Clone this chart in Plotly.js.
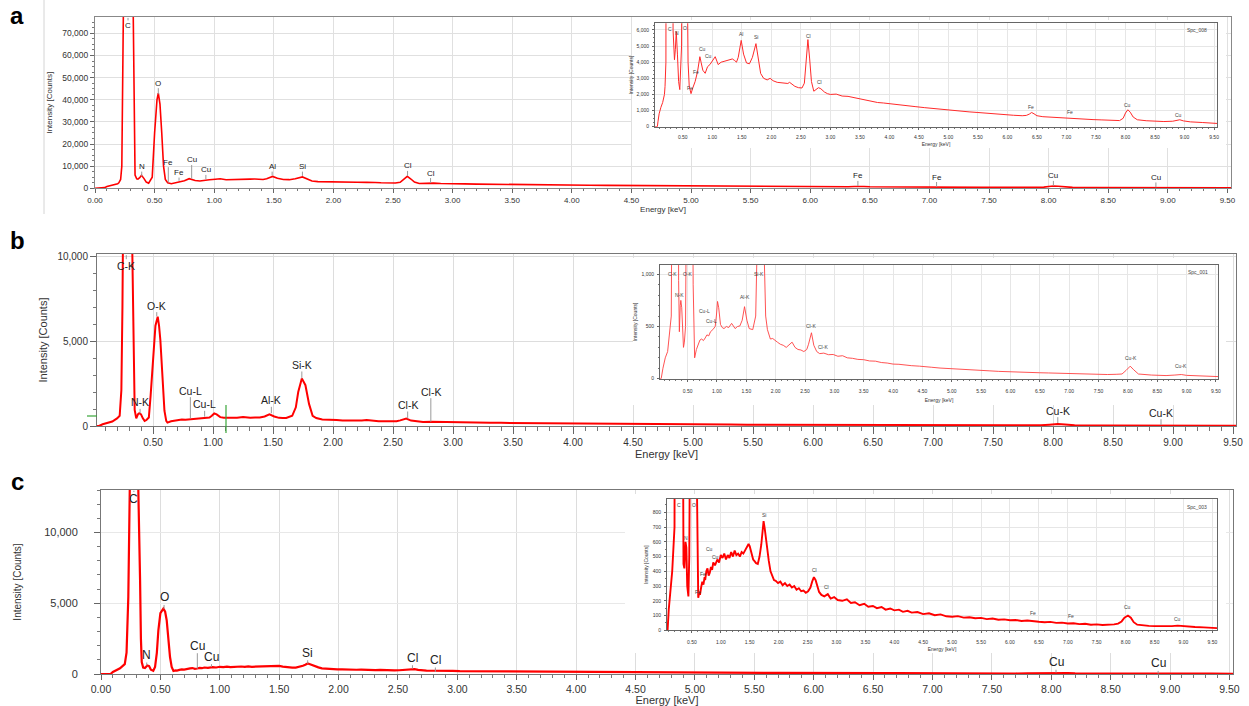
<!DOCTYPE html>
<html><head><meta charset="utf-8">
<script src="https://cdn.plot.ly/plotly-3.0.1.min.js"></script>
<style>html,body{margin:0;padding:0;background:#fff;}#chart{width:1249px;height:706px;}</style>
</head><body><div id="chart"></div>
<script>
// ---------- Spectrum a (Spc_008) ----------
const energyA = [0.00,0.05,0.07,0.08,0.10,0.13,0.16,0.19,0.20,0.215,0.225,0.232,0.24,0.255,0.275,0.295,0.31,0.32,0.328,0.336,0.35,0.36,0.375,0.39,0.41,0.43,0.45,0.465,0.48,0.50,0.52,0.531,0.545,0.56,0.575,0.59,0.61,0.64,0.67,0.71,0.75,0.79,0.81,0.84,0.88,0.92,0.96,1.01,1.05,1.10,1.15,1.20,1.25,1.30,1.34,1.38,1.41,1.44,1.49,1.53,1.58,1.63,1.68,1.74,1.78,1.82,1.87,1.93,1.98,2.03,2.10,2.20,2.28,2.31,2.35,2.40,2.46,2.52,2.56,2.59,2.62,2.65,2.68,2.72,2.76,2.80,2.84,2.90,2.95,3.00,3.10,3.20,3.30,3.40,3.50,3.60,3.70,3.80,3.90,4.00,4.15,4.30,4.45,4.60,4.75,4.90,5.05,5.20,5.35,5.50,5.65,5.80,5.95,6.10,6.25,6.32,6.37,6.41,6.45,6.50,6.60,6.80,6.95,7.06,7.15,7.30,7.45,7.60,7.75,7.90,7.96,8.00,8.04,8.08,8.13,8.20,8.35,8.50,8.65,8.80,8.88,8.92,8.98,9.10,9.30,9.45,9.56];
const countsA = [0,0,0,300,800,1200,1500,2000,2500,4000,10000,40000,90000,180000,230000,200000,130000,80000,30000,6000,4300,4150,4800,5900,4500,2800,2300,3500,5000,25000,40000,43000,38000,25000,10000,4000,2500,2050,2400,2800,3400,4340,4000,3500,3310,3720,3850,4100,4340,3850,4000,4050,4100,4150,4200,4100,4000,4300,5350,4500,3950,3900,4300,5150,4200,3300,3000,2900,3000,2850,2750,2700,2680,2750,2620,2500,2420,2400,2700,4200,5400,4200,2800,2200,2300,2420,2350,2150,2050,2000,2020,1900,1880,1800,1760,1650,1600,1500,1470,1420,1360,1300,1240,1180,1120,1060,1010,960,920,880,830,780,740,710,680,700,780,880,800,680,620,570,540,540,510,470,440,420,400,380,520,850,1050,900,600,430,370,340,320,340,400,430,360,300,260,220,200];

// ---------- Spectrum b (Spc_001) ----------
const energyB = [0.00,0.05,0.08,0.12,0.16,0.20,0.222,0.236,0.245,0.255,0.275,0.295,0.315,0.328,0.339,0.347,0.36,0.375,0.385,0.40,0.415,0.43,0.445,0.465,0.48,0.50,0.52,0.539,0.55,0.561,0.572,0.583,0.595,0.61,0.62,0.65,0.68,0.71,0.74,0.77,0.80,0.83,0.86,0.89,0.93,0.97,0.99,1.01,1.03,1.06,1.09,1.12,1.16,1.20,1.25,1.28,1.31,1.35,1.39,1.43,1.47,1.51,1.55,1.58,1.61,1.66,1.69,1.71,1.74,1.77,1.80,1.83,1.86,1.91,1.95,1.98,2.03,2.08,2.13,2.18,2.24,2.28,2.33,2.38,2.43,2.48,2.53,2.56,2.61,2.65,2.70,2.75,2.82,2.90,2.98,3.06,3.14,3.22,3.31,3.40,3.50,3.60,3.70,3.80,3.90,4.00,4.10,4.20,4.31,4.45,4.55,4.65,4.80,4.90,5.00,5.15,5.31,5.45,5.55,5.65,5.80,5.98,6.15,6.31,6.50,6.65,6.80,6.98,7.15,7.31,7.50,7.65,7.80,7.90,7.97,8.04,8.10,8.18,8.40,8.65,8.80,8.91,9.00,9.15,9.31,9.45,9.55];
const countsB = [0,0,100,200,260,450,600,2100,7000,16000,28000,26000,16000,10300,5000,940,450,700,750,680,450,300,350,500,1800,4080,5900,6430,5900,5060,3600,2120,900,300,200,280,320,370,380,365,390,420,410,450,470,500,600,740,680,520,490,480,500,490,530,510,480,500,505,560,690,560,480,475,470,600,1100,2000,2800,2400,1300,600,470,380,385,370,350,330,320,300,330,350,300,280,275,260,280,330,440,320,260,240,245,230,232,215,220,200,195,185,182,170,168,155,150,140,138,130,125,120,112,110,102,98,95,90,85,80,78,75,70,65,63,60,57,55,52,50,47,45,42,40,42,45,80,120,85,45,35,30,35,40,32,28,25,22,20];

// ---------- Spectrum c (Spc_003) ----------
const energyC = [0.00,0.05,0.08,0.10,0.13,0.16,0.20,0.215,0.23,0.24,0.25,0.27,0.29,0.305,0.315,0.323,0.329,0.336,0.343,0.355,0.37,0.39,0.405,0.42,0.44,0.455,0.47,0.483,0.50,0.525,0.54,0.553,0.567,0.581,0.595,0.61,0.63,0.64,0.66,0.68,0.70,0.72,0.73,0.75,0.77,0.79,0.81,0.83,0.85,0.87,0.90,0.92,0.94,0.97,1.00,1.03,1.06,1.09,1.12,1.15,1.18,1.21,1.24,1.27,1.30,1.33,1.36,1.39,1.42,1.45,1.48,1.50,1.53,1.56,1.58,1.61,1.64,1.67,1.70,1.72,1.74,1.76,1.78,1.80,1.83,1.86,1.89,1.92,1.95,1.99,2.03,2.07,2.11,2.15,2.19,2.23,2.27,2.31,2.35,2.39,2.43,2.47,2.51,2.55,2.58,2.61,2.64,2.67,2.70,2.74,2.79,2.85,2.90,2.96,3.02,3.10,3.18,3.25,3.32,3.40,3.48,3.55,3.63,3.70,3.78,3.85,3.93,4.00,4.08,4.15,4.23,4.30,4.40,4.50,4.60,4.70,4.80,4.90,5.00,5.10,5.20,5.30,5.40,5.50,5.60,5.70,5.80,5.90,6.00,6.10,6.20,6.30,6.40,6.50,6.60,6.70,6.80,6.90,7.00,7.10,7.20,7.30,7.40,7.50,7.60,7.70,7.80,7.87,7.93,7.98,8.04,8.09,8.14,8.20,8.30,8.40,8.50,8.60,8.70,8.80,8.90,8.95,9.05,9.20,9.35,9.45,9.58];
const countsC = [0,0,0,140,300,400,700,1500,5450,11000,18000,24000,23000,17000,13000,11100,6600,2500,850,450,420,600,560,300,230,500,1500,3090,4300,4620,4400,3800,2500,1200,500,220,260,240,290,330,310,360,340,400,420,370,390,430,410,460,440,470,480,460,510,490,520,480,510,490,530,500,540,510,520,500,530,520,540,560,585,570,520,480,470,455,450,500,580,650,740,690,620,560,470,400,370,340,335,320,330,305,320,300,310,290,300,275,285,265,270,255,265,290,330,360,340,290,260,240,230,245,215,225,205,200,210,185,190,170,180,160,165,150,158,140,148,135,140,125,132,120,124,110,115,102,108,95,92,96,86,88,82,84,76,80,72,74,68,70,63,66,60,58,55,57,50,52,46,48,42,44,38,40,36,37,40,45,60,85,100,85,55,38,32,30,28,27,25,28,32,30,24,22,20,18,15];

// ---------- Peak labels: main panels ----------
const peakTextA  = ['C','O','N','Fe','Fe','Cu','Cu','Al','Si','Cl','Cl','Fe','Fe','Cu','Cu'];
const peakEnergyA= [0.277,0.531,0.392,0.615,0.705,0.811,0.930,1.486,1.740,2.622,2.815,6.400,7.060,8.040,8.900];
const peakBaseA  = [77000,42500,5400,2600,3400,4300,4100,5800,5600,5600,2400,1000,600,1100,450];
const peakLabelYA= [73600,47500,9800,11800,7100,12800,8300,9800,9800,10100,6900,5600,5100,5600,4900];

const peakTextB  = ['C-K','O-K','N-K','Cu-L','Cu-L','Al-K','Si-K','Cl-K','Cl-K','Cu-K','Cu-K'];
const peakEnergyB= [0.277,0.531,0.392,0.811,0.930,1.486,1.740,2.622,2.815,8.040,8.900];
const peakBaseB  = [10050,6450,750,450,550,750,2800,450,255,175,60];
const peakLabelYB= [9430,7080,1390,2080,1275,1510,3590,1235,2020,900,780];

const peakTextC  = ['C','O','N','Cu','Cu','Si','Cl','Cl','Cu','Cu'];
const peakEnergyC= [0.277,0.531,0.385,0.811,0.930,1.740,2.622,2.815,8.040,8.900];
const peakBaseC  = [12950,4600,610,380,500,730,380,140,100,30];
const peakLabelYC= [12330,5410,1340,2000,1220,1500,1150,990,830,750];

// ---------- Peak labels: insets ----------
const insetTextA  = ['C','N','O','Fe','Fe','Cu','Cu','Al','Si','Cl','Cl','Fe','Fe','Cu','Cu'];
const insetEnergyA= [0.277,0.400,0.540,0.615,0.720,0.830,0.940,1.486,1.740,2.622,2.815,6.400,7.060,8.040,8.900];
const insetLabelYA= [6060,5790,6100,2420,3410,4820,4400,5730,5540,5620,2780,1245,910,1370,750];

const insetTextB  = ['C-K','O-K','N-K','Cu-L','Cu-L','Al-K','Si-K','Cl-K','Cl-K','Cu-K','Cu-K'];
const insetEnergyB= [0.250,0.510,0.370,0.780,0.900,1.470,1.710,2.600,2.800,8.050,8.910];
const insetLabelYB= [1000,1000,800,650,550,785,1000,505,308,197,124];

const insetTextC  = ['C','O','N','Cu','Cu','Fe','Fe','Si','Cl','Cl','Fe','Fe','Cu','Cu'];
const insetEnergyC= [0.277,0.531,0.400,0.800,0.900,0.700,0.600,1.740,2.620,2.820,6.390,7.050,8.040,8.900];
const insetLabelYC= [846,846,629,550,500,380,262,783,410,296,120,97,156,79];

const spectrumIds = ['Spc_008','Spc_001','Spc_003'];
const panelLetters = ['a','b','c'];

// ---------- drawing ----------
const FONT = 'Liberation Sans, Arial, sans-serif';
const W = 1249, H = 706;
const px = (l, r) => [l / W, r / W];
const py = (t, b) => [1 - b / H, 1 - t / H];

function energyAxis(o) {
  return {
    domain: o.dom, range: o.range, anchor: o.anchor, autorange: false,
    tick0: 0, dtick: 0.5, tickformat: '.2f',
    ticks: 'outside', ticklen: o.tl, tickwidth: 1, tickcolor: '#666',
    ticklabelstandoff: o.ls || 0,
    tickfont: {family: FONT, size: o.fs, color: '#333'},
    showline: true, linecolor: o.lc, linewidth: 1, mirror: true,
    showgrid: true, gridcolor: o.gc, gridwidth: 1, zeroline: false,
    minor: {tick0: 0, dtick: 0.1, ticks: 'outside', ticklen: o.mtl, tickcolor: '#777', showgrid: false},
    title: {text: 'Energy [keV]', font: {family: FONT, size: o.tfs, color: '#333'}, standoff: o.so},
    fixedrange: true
  };
}
function countAxis(o) {
  return {
    domain: o.dom, range: o.range, anchor: o.anchor, autorange: false,
    tick0: 0, dtick: o.dtick, tickformat: ',',
    ticks: 'outside', ticklen: o.tl, tickwidth: 1, tickcolor: '#666',
    ticklabelstandoff: o.ls || 0,
    tickfont: {family: FONT, size: o.fs, color: '#333'},
    showline: true, linecolor: o.lc, linewidth: 1, mirror: true,
    showgrid: o.grid, gridcolor: o.gc, gridwidth: 1, zeroline: false,
    minor: {tick0: 0, dtick: o.mdtick, ticks: 'outside', ticklen: o.mtl, tickcolor: '#777', showgrid: false},
    title: {text: 'Intensity [Counts]', font: {family: FONT, size: o.tfs, color: '#333'}, standoff: o.so},
    fixedrange: true
  };
}
function boxAxis(dom, anchor) {
  return {domain: dom, anchor: anchor, range: [0, 1], autorange: false, showline: false, showgrid: false,
          zeroline: false, showticklabels: false, ticks: '', fixedrange: true};
}

const layout = {
  width: W, height: H, autosize: false,
  margin: {l: 0, r: 0, t: 0, b: 0, pad: 0},
  paper_bgcolor: '#ffffff', plot_bgcolor: '#ffffff',
  showlegend: false, font: {family: FONT},
  // panel a
  xaxis:  energyAxis({dom: px(95, 1231), range: [0, 9.53], anchor: 'y', fs: 8, tfs: 8, so: 1, tl: 4, mtl: 2, lc: '#888', gc: '#e0e0e0'}),
  yaxis:  countAxis({dom: py(17, 188.3), range: [0, 77400], anchor: 'x', dtick: 10000, mdtick: 2500, fs: 8.5, tfs: 8, so: 8, tl: 4, mtl: 2, lc: '#888', gc: '#e0e0e0', grid: true}),
  xaxis2: boxAxis(px(632, 1226), 'y2'),
  yaxis2: boxAxis(py(20, 148), 'x2'),
  xaxis3: energyAxis({dom: px(655, 1217), range: [0.03, 9.55], anchor: 'y3', fs: 5, tfs: 5, so: 3, tl: 2, mtl: 1, ls: 3, lc: '#666', gc: '#e6e6e6'}),
  yaxis3: countAxis({dom: py(23.3, 126.7), range: [0, 6410], anchor: 'x3', dtick: 1000, mdtick: 250, fs: 5, tfs: 5, so: 2, tl: 2, mtl: 1, ls: 2, lc: '#666', gc: '#e6e6e6', grid: true}),
  // panel b
  xaxis4: energyAxis({dom: px(97, 1236), range: [0.033, 9.525], anchor: 'y4', fs: 10, tfs: 11, so: 3, tl: 7, mtl: 4, lc: '#777', gc: '#dddddd'}),
  yaxis4: countAxis({dom: py(254, 426), range: [0, 10118], anchor: 'x4', dtick: 5000, mdtick: 1000, fs: 10, tfs: 11, so: 7, tl: 6, mtl: 3, lc: '#777', gc: '#dddddd', grid: true}),
  xaxis5: boxAxis(px(633, 1226), 'y5'),
  yaxis5: boxAxis(py(258, 405), 'x5'),
  xaxis6: energyAxis({dom: px(660, 1218), range: [0.03, 9.535], anchor: 'y6', fs: 5, tfs: 5, so: 5, tl: 2, mtl: 1, ls: 5, lc: '#666', gc: '#e6e6e6'}),
  yaxis6: countAxis({dom: py(265, 378.7), range: [0, 1089], anchor: 'x6', dtick: 500, mdtick: 100, fs: 5, tfs: 5, so: 3, tl: 2, mtl: 1, ls: 2, lc: '#666', gc: '#e6e6e6', grid: true}),
  // panel c
  xaxis7: energyAxis({dom: px(101, 1233), range: [0, 9.53], anchor: 'y7', fs: 10.5, tfs: 11, so: 2, tl: 5, mtl: 3, lc: '#777', gc: '#dddddd'}),
  yaxis7: countAxis({dom: py(490, 674), range: [0, 13000], anchor: 'x7', dtick: 5000, mdtick: 1000, fs: 11, tfs: 10, so: 20, tl: 6, mtl: 3, ls: 14, lc: '#777', gc: '#e8e8e8', grid: true}),
  xaxis8: boxAxis(px(625, 1226), 'y8'),
  yaxis8: boxAxis(py(494, 653), 'x8'),
  xaxis9: energyAxis({dom: px(667, 1217), range: [0.07, 9.58], anchor: 'y9', fs: 5, tfs: 5, so: 3, tl: 2, mtl: 1, ls: 5, lc: '#666', gc: '#e6e6e6'}),
  yaxis9: countAxis({dom: py(499, 630.3), range: [0, 890], anchor: 'x9', dtick: 100, mdtick: 50, fs: 5, tfs: 5, so: 3, tl: 2, mtl: 1, ls: 2, lc: '#666', gc: '#e6e6e6', grid: true}),
  annotations: [],
  shapes: [
    {type: 'line', xref: 'paper', yref: 'paper', x0: 44 / W, x1: 44 / W, y0: 1 - 0 / H, y1: 1 - 214 / H, line: {color: '#d4d4d4', width: 1}},
    {type: 'line', xref: 'paper', yref: 'paper', x0: 226 / W, x1: 226 / W, y0: 1 - 405 / H, y1: 1 - 433 / H, line: {color: '#3aa63a', width: 1.2}},
    {type: 'line', xref: 'paper', yref: 'paper', x0: 87 / W, x1: 97 / W, y0: 1 - 416 / H, y1: 1 - 416 / H, line: {color: '#3aa63a', width: 1.2}}
  ]
};

function peakAnnos(xr, yr, texts, energies, bases, labelYs, fs) {
  return texts.map((t, i) => ({
    xref: xr, yref: yr, x: energies[i], y: bases[i],
    axref: xr, ayref: yr, ax: energies[i], ay: labelYs[i],
    text: t, showarrow: true, arrowhead: 0, arrowwidth: 1, arrowcolor: '#9a9a9a',
    standoff: 0, startstandoff: 0, borderpad: 0,
    font: {family: FONT, size: fs, color: '#222'}
  }));
}
function insetAnnos(xr, yr, texts, energies, ys, fs) {
  return texts.map((t, i) => ({
    xref: xr, yref: yr, x: energies[i], y: ys[i], text: t, showarrow: false,
    xanchor: 'center', yanchor: 'middle', font: {family: FONT, size: fs, color: '#444'}
  }));
}
layout.annotations = [].concat(
  peakAnnos('x', 'y', peakTextA, peakEnergyA, peakBaseA, peakLabelYA, 8),
  peakAnnos('x4', 'y4', peakTextB, peakEnergyB, peakBaseB, peakLabelYB, 10.5),
  peakAnnos('x7', 'y7', peakTextC, peakEnergyC, peakBaseC, peakLabelYC, 12),
  insetAnnos('x3', 'y3', insetTextA, insetEnergyA, insetLabelYA, 5),
  insetAnnos('x6', 'y6', insetTextB, insetEnergyB, insetLabelYB, 5),
  insetAnnos('x9', 'y9', insetTextC, insetEnergyC, insetLabelYC, 5),
  [['x3','y3'],['x6','y6'],['x9','y9']].map((r, i) => ({
    xref: r[0] + ' domain', yref: r[1] + ' domain', x: 0.985, y: 0.94, xanchor: 'right', yanchor: 'middle',
    text: spectrumIds[i], showarrow: false, font: {family: FONT, size: 5, color: '#444'}
  })),
  panelLetters.map((t, i) => ({
    xref: 'paper', yref: 'paper', x: 17 / W, y: 1 - [16, 241, 481][i] / H, xanchor: 'center', yanchor: 'middle',
    text: '<b>' + t + '</b>', showarrow: false, font: {family: FONT, size: 24, color: '#000'}
  }))
);

function spec(x, y, xa, ya, w, c) {
  return {type: 'scatter', mode: 'lines', x: x, y: y, xaxis: xa, yaxis: ya,
          line: {color: c, width: w}, hoverinfo: 'skip', showlegend: false};
}
function empty(xa, ya) {
  return {type: 'scatter', mode: 'lines', x: [], y: [], xaxis: xa, yaxis: ya, hoverinfo: 'skip', showlegend: false};
}
const data = [
  spec(energyA, countsA, 'x', 'y', 1.6, '#ff0000'),
  empty('x2', 'y2'),
  spec(energyA, countsA, 'x3', 'y3', 1, '#ff2a2a'),
  spec(energyB, countsB, 'x4', 'y4', 2, '#ff0000'),
  empty('x5', 'y5'),
  spec(energyB, countsB, 'x6', 'y6', 0.9, '#ff4040'),
  spec(energyC, countsC, 'x7', 'y7', 2.2, '#ff0000'),
  empty('x8', 'y8'),
  spec(energyC, countsC, 'x9', 'y9', 1.9, '#ff0000')
];
Plotly.newPlot('chart', data, layout, {staticPlot: true, displayModeBar: false});
</script>
</body></html>
